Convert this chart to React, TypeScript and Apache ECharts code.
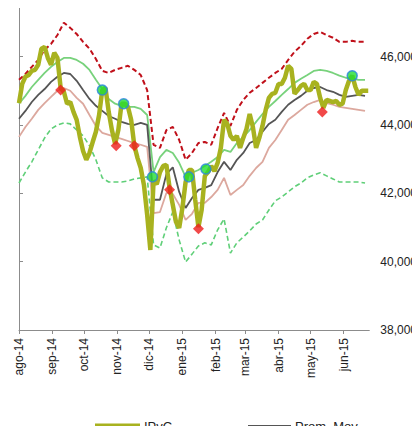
import React, { useEffect, useRef } from 'react';
import * as echarts from 'echarts';

// x axis: days since 1 Aug 2014
const monthStarts = [0, 31, 61, 92, 122, 153, 184, 212, 243, 273, 304];
const monthLabels = ['ago-14', 'sep-14', 'oct-14', 'nov-14', 'dic-14', 'ene-15', 'feb-15', 'mar-15', 'abr-15', 'may-15', 'jun-15'];

// IPvC, one reading every 3 days
const ipvcStep = 3;
const ipvc = [
  44640, 45200, 45410, 45460, 45580, 45610, 45760, 46230, 46280, 45960,
  45760, 46110, 45960, 45080, 44970, 44620, 44670, 44380, 44150, 43650,
  43240, 42980, 43180, 43500, 43800, 44290, 45020, 45080, 44380, 43850,
  43440, 43850, 44620, 44620, 44530, 44150, 43390, 43030, 42740, 42240,
  41370, 40340, 42360, 42270, 42620, 42800, 42830, 42160, 41660, 41160,
  40990, 41570, 42330, 42680, 42680, 41810, 41010, 41510, 42510, 42620,
  42800, 42650, 42890, 43330, 44150, 44030, 43680, 43560, 43680, 43330,
  43620, 43880, 44320, 43940, 43330, 43620, 43970, 44440, 44790, 44910,
  44940, 45200, 45200, 45380, 45730, 45640, 44910, 45020, 45140, 45200,
  45020, 45020, 45260, 45200, 44790, 44500, 44730, 44700, 44670, 44700,
  44590, 44620, 45020, 45290, 45440, 45110, 44880, 45000, 45000, 45000
];

// bands, one reading every 6 days
const bandStep = 6;
const promMov = [
  44180, 44410, 44670, 44880, 45050, 45260, 45410, 45520, 45490, 45290,
  45020, 44760, 44560, 44410, 44260, 44180, 44090, 44030, 44000, 44060,
  44000, 41810, 41810, 42560, 42760, 42040, 41570, 41860, 42100, 42160,
  42240, 42620, 42920, 42680, 42980, 43180, 43470, 43560, 43800, 44030,
  44150, 44380, 44590, 44730, 44850, 45000, 45080, 45110, 45020, 44970,
  44880, 44820, 44850, 44880, 44850
];
const bandUp = [
  44620, 44850, 45110, 45320, 45520, 45700, 45840, 45960, 45960, 45900,
  45790, 45610, 45320, 45050, 44760, 44620, 44560, 44530, 44530, 44470,
  44290, 42620, 43060, 43270, 43180, 42890, 42480, 42600, 42680, 42800,
  42920, 43060, 43270, 43210, 43470, 43650, 43850, 44090, 44320, 44530,
  44700, 44880, 45050, 45230, 45350, 45460, 45580, 45610, 45580, 45520,
  45440, 45380, 45350, 45320, 45320
];
const bandLow = [
  43650, 43940, 44180, 44440, 44640, 44820, 45000, 45080, 45000, 44790,
  44620, 44290, 43970, 43770, 43710, 43650, 43590, 43530, 43470, 43420,
  43360, 41420, 41450, 42010, 41980, 41660, 41220, 41400, 41720, 41720,
  41890, 42100, 42450, 41950, 42100, 42240, 42510, 42740, 42920, 43330,
  43560, 43850, 44150, 44290, 44440, 44590, 44670, 44730, 44640, 44590,
  44530, 44500, 44470, 44440, 44410
];
const outerUp = [
  45320, 45490, 45700, 45900, 46200, 46370, 46630, 46990, 46840, 46660,
  46430, 46230, 45930, 45580, 45520, 45610, 45670, 45730, 45610, 45460,
  45020, 43420, 43330, 43850, 43940, 43560, 42980, 43180, 43470, 43500,
  43420, 43910, 44350, 43970, 44440, 44730, 44940, 45080, 45230, 45380,
  45520, 45640, 45900, 46140, 46310, 46520, 46660, 46720, 46630, 46550,
  46430, 46430, 46460, 46430, 46430
];
const outerLow = [
  42300, 42620, 42920, 43270, 43620, 43880, 44000, 44060, 44030, 43850,
  43680, 43390, 42980, 42450, 42330, 42330, 42330, 42360, 42420, 42450,
  42480, 40490, 40400, 40990, 41450, 40630, 39990, 40220, 40460, 40550,
  40490, 40930, 41250, 40250, 40550, 40720, 40900, 41100, 41220, 41510,
  41780, 41890, 42040, 42190, 42300, 42450, 42540, 42600, 42510, 42420,
  42330, 42330, 42330, 42330, 42300
];

// signals: [day, value]
const buySignals = [[78, 45020], [98, 44620], [125, 42480], [159, 42480], [175, 42710], [312, 45440]];
const sellSignals = [[39, 45020], [91, 43390], [108, 43390], [141, 42100], [168, 40960], [284, 44380]];

const FONT = '"Liberation Sans", Arial, sans-serif';
const OLIVE = '#a8b21f';
const GRAY = '#555555';

const toPairs = (values: number[], step: number) => values.map((v, i) => [i * step, v]);

const lineSeries = (name: string, data: number[][], color: string, width: number, dashed = false) => ({
  name,
  type: 'line',
  data,
  showSymbol: false,
  symbol: 'none',
  lineStyle: { color, width, type: dashed ? [5, 3] : 'solid' },
  itemStyle: { color },
  z: 2
});

// legend drawn by hand near the bottom edge, as in the original
const LEGEND_Y = 426;
const legendItem = (label: string, x: number, len: number, color: string, width: number) => [
  {
    type: 'line',
    shape: { x1: x, y1: LEGEND_Y, x2: x + len, y2: LEGEND_Y },
    style: { stroke: color, lineWidth: width }
  },
  {
    type: 'text',
    x: x + len + 4,
    y: LEGEND_Y,
    style: {
      text: label,
      fill: '#222',
      font: `13px ${FONT}`,
      verticalAlign: 'middle'
    }
  }
];

const App: React.FC = () => {
  const chartRef = useRef<HTMLDivElement>(null);

  useEffect(() => {
    if (!chartRef.current) return;
    const chart = echarts.init(chartRef.current, null, { renderer: 'svg' });

    const option: any = {
      animation: false,
      textStyle: { fontFamily: FONT },
      grid: { left: 19, right: 50, top: 7, bottom: 104 },
      graphic: [
        ...legendItem('IPvC', 95, 45, OLIVE, 5),
        ...legendItem('Prom. Mov.', 248, 43, GRAY, 2)
      ],
      xAxis: {
        type: 'value',
        min: 0,
        max: 328,
        splitLine: { show: false },
        axisLine: { lineStyle: { color: '#8c8c8c', width: 1 } },
        axisTick: {
          show: true,
          customValues: monthStarts,
          length: 4,
          lineStyle: { color: '#8c8c8c' }
        },
        axisLabel: {
          customValues: monthStarts,
          rotate: 90,
          margin: 8,
          fontSize: 12,
          color: '#222',
          fontFamily: FONT,
          formatter: (v: number) => monthLabels[monthStarts.indexOf(Math.round(v))] ?? ''
        }
      },
      yAxis: {
        type: 'value',
        position: 'right',
        min: 38000,
        max: 47450,
        interval: 2000,
        splitLine: { show: false },
        axisLine: { show: true, lineStyle: { color: '#8c8c8c', width: 1 } },
        axisTick: { show: true, length: 4, lineStyle: { color: '#8c8c8c' } },
        axisLabel: {
          showMaxLabel: false,
          margin: 11,
          fontSize: 12,
          color: '#222',
          fontFamily: FONT,
          formatter: (v: number) => v.toLocaleString('en-US')
        }
      },
      series: [
        lineSeries('Banda inf. 2', toPairs(outerLow, bandStep), '#5fcf78', 1.6, true),
        lineSeries('Banda sup. 2', toPairs(outerUp, bandStep), '#c0101a', 2, true),
        lineSeries('Banda inf.', toPairs(bandLow, bandStep), '#dca89e', 1.8),
        lineSeries('Banda sup.', toPairs(bandUp, bandStep), '#78d27c', 1.8),
        lineSeries('Prom. Mov.', toPairs(promMov, bandStep), GRAY, 1.8),
        { ...lineSeries('IPvC', toPairs(ipvc, ipvcStep), OLIVE, 4.5), z: 3 },
        {
          name: 'Compra',
          type: 'scatter',
          data: buySignals,
          symbol: 'circle',
          symbolSize: 10,
          itemStyle: { color: '#22dd33', borderColor: '#2a84e0', borderWidth: 1.5 },
          z: 5
        },
        {
          name: 'Venta',
          type: 'scatter',
          data: sellSignals,
          symbol: 'diamond',
          symbolSize: 11,
          itemStyle: { color: '#ee1c1c' },
          z: 5
        }
      ]
    };

    chart.setOption(option);
    return () => {
      chart.dispose();
    };
  }, []);

  return <div ref={chartRef} style={{ width: 420, height: 434, margin: -8 }} />;
};

export default App;
